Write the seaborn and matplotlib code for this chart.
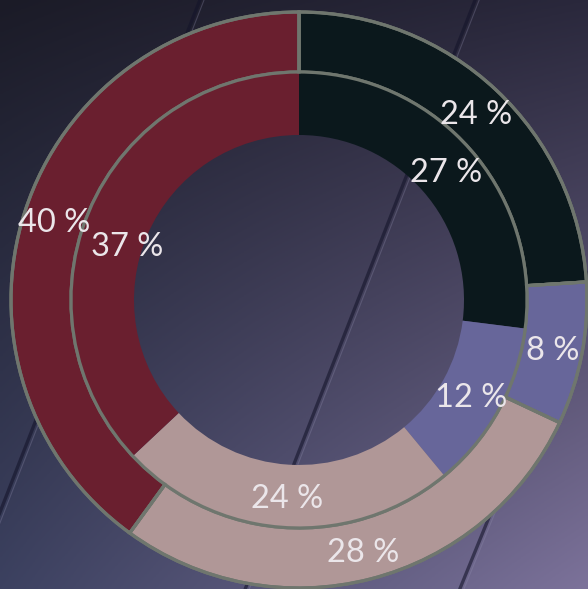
import matplotlib

matplotlib.use("Agg")
import matplotlib.pyplot as plt
import numpy as np
import seaborn as sns

# ring data, clockwise from 12 o'clock
categories = ["A", "B", "C", "D"]
outer_values = [24, 8, 28, 40]
inner_values = [27, 12, 24, 37]
ring_colors = ["#0b181c", "#67669a", "#b09797", "#6a1f2f"]
edge_color = "#6f766e"
label_color = "#ebe6ea"


def background(ax):
    # four-corner blend roughly matching the backdrop
    corners = np.array([
        [[0x1b, 0x1b, 0x27], [0x2a, 0x28, 0x3c]],
        [[0x3c, 0x41, 0x60], [0x7c, 0x72, 0x9a]],
    ]) / 255.0
    n = 200
    t = np.linspace(0, 1, n)
    u, v = np.meshgrid(t, t)
    img = (
        corners[0, 0] * ((1 - u) * (1 - v))[..., None]
        + corners[0, 1] * (u * (1 - v))[..., None]
        + corners[1, 0] * ((1 - u) * v)[..., None]
        + corners[1, 1] * (u * v)[..., None]
    )
    ax.imshow(img, extent=[0, 1, 0, 1], aspect="auto", origin="upper")
    # faint diagonal seams of the backdrop
    for x0, x1 in [(0.808, 0.417), (0.340, -0.051), (1.19, 0.782)]:
        ax.plot([x0, x1], [1.0, 0.0], color="#14142a", lw=2.4, alpha=0.6)
        ax.plot([x0 + 0.007, x1 + 0.007], [1.0, 0.0], color="#9290b0", lw=0.8, alpha=0.3)
    ax.set_xlim(0, 1)
    ax.set_ylim(0, 1)
    ax.axis("off")


def main():
    sns.set_theme(style="white")
    plt.rcParams["font.family"] = ["Lato", "DejaVu Sans"]

    fig = plt.figure(figsize=(5.88, 5.89), dpi=100)
    bg = fig.add_axes([0, 0, 1, 1])
    background(bg)

    ax = fig.add_axes([0, 0, 1, 1])
    ax.set_facecolor("none")

    center = (5 / 294, -5.5 / 294.5)
    r_out = 288 / 294
    w_out = 60 / 294
    r_in = 228 / 294
    w_in = 63 / 294
    lw = 2.3

    _, _, outer_txt = ax.pie(
        outer_values,
        radius=r_out,
        center=center,
        colors=ring_colors,
        startangle=90,
        counterclock=False,
        autopct=lambda p: f"{p:.0f} %",
        pctdistance=1 - (w_out / 2) / r_out,
        wedgeprops=dict(width=w_out, edgecolor=edge_color, linewidth=lw),
    )
    _, _, inner_txt = ax.pie(
        inner_values,
        radius=r_in,
        center=center,
        colors=ring_colors,
        startangle=90,
        counterclock=False,
        autopct=lambda p: f"{p:.0f} %",
        pctdistance=1 - (w_in / 2) / r_in,
        wedgeprops=dict(width=w_in, linewidth=0),
    )

    # redraw the outer ring outline on top of the inner ring
    ax.pie(
        outer_values,
        radius=r_out,
        center=center,
        colors=["none"] * len(outer_values),
        startangle=90,
        counterclock=False,
        wedgeprops=dict(width=w_out, edgecolor=edge_color, linewidth=lw, fill=False),
    )

    # the last inner label sits at the same angle as its outer neighbour,
    # pulled in towards the hole so the two don't collide
    ang = np.deg2rad(162.0)
    rad = 181 / 294
    inner_txt[-1].set_position((center[0] + rad * np.cos(ang), center[1] + rad * np.sin(ang)))

    for txt in outer_txt + inner_txt:
        txt.set_color(label_color)
        txt.set_fontsize(23.5)
        txt.set_verticalalignment("center_baseline")
        txt.set_zorder(10)

    ax.set_xlim(-1, 1)
    ax.set_ylim(-1, 1)
    ax.set_aspect("equal")
    ax.axis("off")

    fig.savefig("out.png", dpi=100)
    plt.close(fig)


if __name__ == "__main__":
    main()
